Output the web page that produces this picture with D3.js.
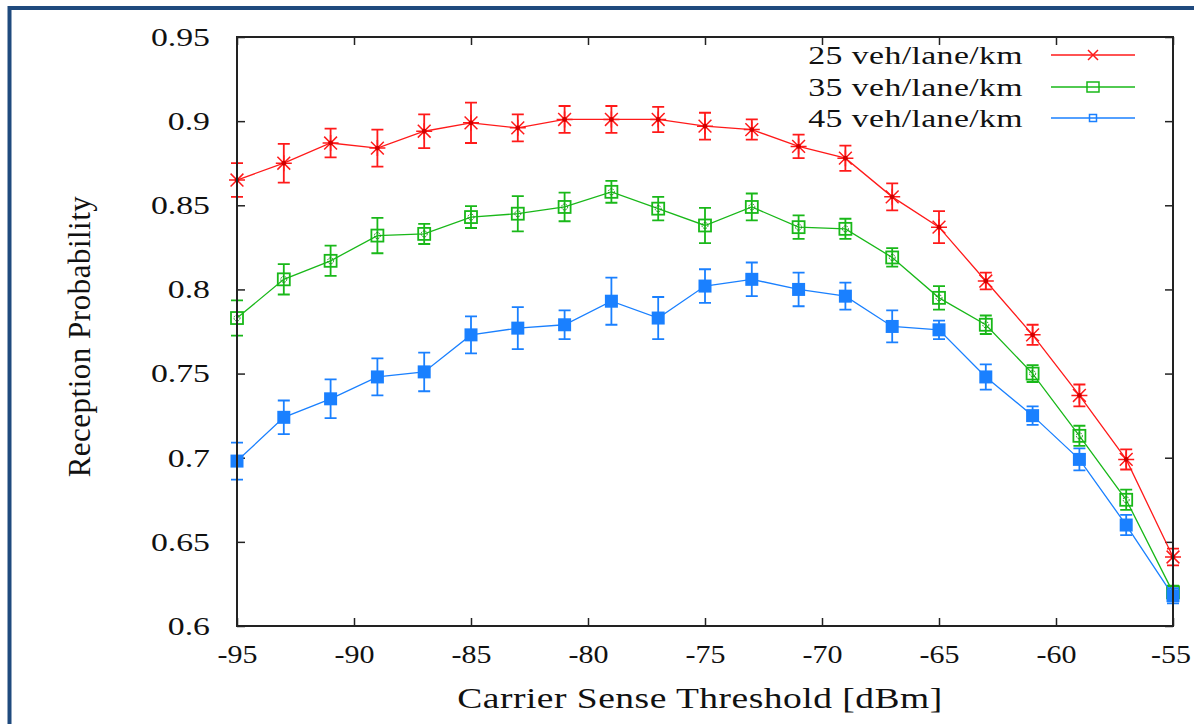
<!DOCTYPE html>
<html>
<head>
<meta charset="utf-8">
<script src="https://cdn.jsdelivr.net/npm/d3@7"></script>
<style>
  body { margin: 0; background: #fff; }
</style>
</head>
<body>
<main></main>
<script>
// carrier sense threshold (dBm)
var thresholds = [-95, -93, -91, -89, -87, -85, -83, -81, -79, -77, -75, -73, -71, -69, -67, -65, -63, -61, -59, -57, -55];

// reception probability per density
var prob25 = [0.865, 0.875, 0.887, 0.884, 0.894, 0.899, 0.896, 0.901, 0.901, 0.901, 0.897, 0.895, 0.885, 0.878, 0.855, 0.837, 0.805, 0.773, 0.737, 0.699, 0.641];
var err25  = [0.010, 0.0115, 0.0085, 0.011, 0.010, 0.012, 0.008, 0.008, 0.008, 0.0075, 0.008, 0.006, 0.007, 0.0075, 0.008, 0.0095, 0.005, 0.006, 0.0065, 0.006, 0.005];

var prob35 = [0.783, 0.806, 0.817, 0.832, 0.833, 0.843, 0.845, 0.849, 0.858, 0.848, 0.838, 0.849, 0.837, 0.836, 0.819, 0.795, 0.779, 0.750, 0.713, 0.675, 0.620];
var err35  = [0.0105, 0.009, 0.009, 0.0105, 0.006, 0.0065, 0.0105, 0.0085, 0.0065, 0.007, 0.0105, 0.008, 0.007, 0.006, 0.0055, 0.007, 0.0055, 0.005, 0.006, 0.006, 0.004];

var prob45 = [0.698, 0.724, 0.735, 0.748, 0.751, 0.773, 0.777, 0.779, 0.793, 0.783, 0.802, 0.806, 0.800, 0.796, 0.778, 0.776, 0.748, 0.725, 0.699, 0.660, 0.618];
var err45  = [0.011, 0.010, 0.0115, 0.011, 0.0115, 0.011, 0.0125, 0.0085, 0.014, 0.0125, 0.010, 0.010, 0.010, 0.008, 0.0095, 0.0055, 0.0075, 0.0055, 0.0065, 0.006, 0.0045];

var seriesNames = ["25 veh/lane/km", "35 veh/lane/km", "45 veh/lane/km"];
var seriesColors = ["#ff1a1a", "#19b819", "#1a80ff"];

var xTicks = [-95, -90, -85, -80, -75, -70, -65, -60, -55];
var yTicks = [0.6, 0.65, 0.7, 0.75, 0.8, 0.85, 0.9, 0.95];

var W = 1194, H = 724;
var margin = {top: 37, right: 21, bottom: 98, left: 237};
var width = W - margin.left - margin.right,
    height = H - margin.top - margin.bottom;
var serif = "'Liberation Serif', 'DejaVu Serif', serif";
var stretch = 1.3; // the picture's text is wider than it is tall

var svg = d3.select("main")
  .append("svg")
  .attr("width", W)
  .attr("height", H);

// blue frame
svg.append("path")
  .attr("d", "M9.5," + H + " V8 H" + W)
  .attr("fill", "none")
  .attr("stroke", "#1f4a7e")
  .attr("stroke-width", 4);

var g = svg.append("g")
  .attr("transform", "translate(" + margin.left + "," + margin.top + ")");

var x = d3.scaleLinear().domain([-95, -55]).range([0, width]);
var y = d3.scaleLinear().domain([0.6, 0.95]).range([height, 0]);

function styleTicks(a) {
  a.select(".domain").remove();
  a.attr("font-family", null).attr("font-size", null);
  a.selectAll("text")
    .style("font-family", serif)
    .style("font-size", "26px")
    .attr("fill", "#111");
}

// axes with inward ticks on all sides
var tickLen = 8;
g.append("g")
  .attr("transform", "translate(0," + height + ")")
  .call(d3.axisBottom(x).tickValues(xTicks).tickSizeInner(-tickLen).tickSizeOuter(0).tickPadding(19).tickFormat(function(d){ return String(d); }))
  .call(styleTicks)
  .selectAll("text")
  .style("font-size", "25px")
  .attr("x", function(d){ return d === -55 ? -2 : 0; })
  .attr("transform", "scale(1.2,1)");
g.append("g")
  .call(d3.axisTop(x).tickValues(xTicks).tickSizeInner(-tickLen).tickSizeOuter(0).tickFormat(""))
  .call(function(a){ a.select(".domain").remove(); });
g.append("g")
  .call(d3.axisLeft(y).tickValues(yTicks).tickSizeInner(-tickLen).tickSizeOuter(0).tickFormat(function(d){ return String(+d.toFixed(2)); }))
  .call(styleTicks)
  .selectAll("text")
  .attr("x", -27 / stretch)
  .attr("transform", "scale(" + stretch + ",1)");
g.append("g")
  .attr("transform", "translate(" + width + ",0)")
  .call(d3.axisRight(y).tickValues(yTicks).tickSizeInner(-tickLen).tickSizeOuter(0).tickFormat(""))
  .call(function(a){ a.select(".domain").remove(); });

g.selectAll(".tick line").attr("stroke", "#222").attr("stroke-width", 1.5);

// axis labels
svg.append("g")
  .attr("transform", "translate(" + (margin.left + width / 2 - 5) + ",708)")
  .append("text")
  .attr("transform", "scale(1.25,1)")
  .attr("text-anchor", "middle")
  .style("font-family", serif)
  .style("font-size", "30px")
  .attr("letter-spacing", "0.4px")
  .attr("fill", "#111")
  .text("Carrier Sense Threshold [dBm]");

svg.append("text")
  .attr("transform", "translate(90," + (margin.top + height / 2 + 5) + ") rotate(-90)")
  .attr("text-anchor", "middle")
  .style("font-family", serif)
  .style("font-size", "31px")
  .attr("letter-spacing", "0.5px")
  .attr("fill", "#111")
  .text("Reception Probability");

// data
var allSeries = [
  {name: seriesNames[0], color: seriesColors[0], marker: "star", vals: prob25, errs: err25},
  {name: seriesNames[1], color: seriesColors[1], marker: "box", vals: prob35, errs: err35},
  {name: seriesNames[2], color: seriesColors[2], marker: "fill", vals: prob45, errs: err45}
];

var line = d3.line()
  .x(function(d){ return x(d.t); })
  .y(function(d){ return y(d.v); });

function drawMarker(sel, type, color, size) {
  if (type === "star") {
    var r = size;
    sel.append("path")
      .attr("d", "M" + (-r) + ",0H" + r + "M0," + (-r) + "V" + r +
        "M" + (-r*0.8) + "," + (-r*0.8) + "L" + (r*0.8) + "," + (r*0.8) +
        "M" + (-r*0.8) + "," + (r*0.8) + "L" + (r*0.8) + "," + (-r*0.8))
      .attr("stroke", color).attr("stroke-width", 1.5).attr("fill", "none");
    sel.append("circle").attr("r", 2.4).attr("fill", "#d00000");
  } else if (type === "box") {
    sel.append("rect")
      .attr("x", -size).attr("y", -size).attr("width", 2*size).attr("height", 2*size)
      .attr("fill", "none").attr("stroke", color).attr("stroke-width", 1.8);
    sel.append("circle").attr("r", size*0.5)
      .attr("fill", "none").attr("stroke", "#0a8a0a").attr("stroke-width", 1).attr("stroke-dasharray", "1.5,1");
  } else {
    sel.append("rect")
      .attr("x", -size).attr("y", -size).attr("width", 2*size).attr("height", 2*size)
      .attr("fill", color);
  }
}

allSeries.forEach(function(s){
  var pts = thresholds.map(function(t, i){ return {t: t, v: s.vals[i], e: s.errs[i]}; });
  var sg = g.append("g");

  sg.append("path")
    .datum(pts)
    .attr("d", line)
    .attr("fill", "none")
    .attr("stroke", s.color)
    .attr("stroke-width", 1.3);

  // error bars
  var eb = sg.selectAll(".err")
    .data(pts)
    .enter()
    .append("g")
    .attr("transform", function(d){ return "translate(" + x(d.t) + ",0)"; });
  eb.append("path")
    .attr("d", function(d){
      var y0 = y(d.v - d.e), y1 = y(d.v + d.e);
      return "M0," + y0 + "V" + y1 + "M-6," + y0 + "H6M-6," + y1 + "H6";
    })
    .attr("stroke", s.color)
    .attr("stroke-width", 1.8)
    .attr("fill", "none");

  var mk = sg.selectAll(".mk")
    .data(pts)
    .enter()
    .append("g")
    .attr("transform", function(d){ return "translate(" + x(d.t) + "," + y(d.v) + ")"; });
  drawMarker(mk, s.marker, s.color, s.marker === "star" ? 8 : (s.marker === "box" ? 6 : 6.5));
});

// plot border on top
g.append("rect")
  .attr("width", width)
  .attr("height", height)
  .attr("fill", "none")
  .attr("stroke", "#222")
  .attr("stroke-width", 2);

// legend
var legend = svg.append("g").attr("id", "legend");
var legY = [55, 87, 118];
allSeries.forEach(function(s, i){
  var lg = legend.append("g").attr("transform", "translate(0," + legY[i] + ")");
  lg.append("g")
    .attr("transform", "translate(1023,9)")
    .append("text")
    .attr("transform", "scale(" + stretch + ",1)")
    .attr("text-anchor", "end")
    .style("font-family", serif)
    .style("font-size", "26px")
    .attr("letter-spacing", "0.3px")
    .attr("fill", "#111")
    .text(s.name);
  lg.append("line")
    .attr("x1", 1051).attr("x2", 1135)
    .attr("stroke", s.color).attr("stroke-width", 1.5);
  var m = lg.append("g").attr("transform", "translate(1093,0)");
  if (i === 0) {
    m.append("path").attr("d", "M-5,-5L5,5M-5,5L5,-5").attr("stroke", s.color).attr("stroke-width", 1.5);
  } else if (i === 1) {
    m.append("rect").attr("x", -6).attr("y", -5).attr("width", 12).attr("height", 10)
      .attr("fill", "none").attr("stroke", s.color).attr("stroke-width", 1.5);
  } else {
    m.append("rect").attr("x", -3.5).attr("y", -3.5).attr("width", 7).attr("height", 7)
      .attr("fill", "none").attr("stroke", s.color).attr("stroke-width", 1.5);
  }
});
</script>
</body>
</html>
